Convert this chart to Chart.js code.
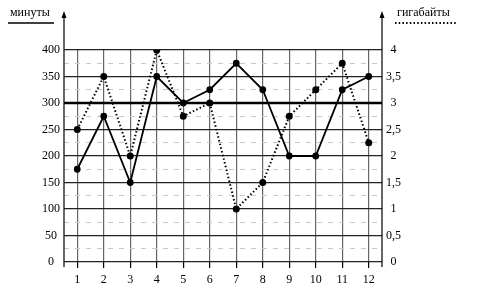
<!DOCTYPE html>
<html>
<head>
<meta charset="utf-8">
<script src="https://cdn.jsdelivr.net/npm/chart.js@4"></script>
<style>
  html, body { margin: 0; padding: 0; background: #fff; }
  #wrap { width: 492px; height: 291px; position: relative; }
</style>
</head>
<body>
<div id="wrap"><canvas id="myChart"></canvas></div>
<script>
const months = ["1", "2", "3", "4", "5", "6", "7", "8", "9", "10", "11", "12"];
const minutes = [175, 275, 150, 350, 300, 325, 375, 325, 200, 200, 325, 350];
const gigabytes = [2.5, 3.5, 2, 4, 2.75, 3, 1, 1.5, 2.75, 3.25, 3.75, 2.25];
const limitMinutes = 300;
const leftTitle = "минуты";
const rightTitle = "гигабайты";

const serif = "'Liberation Serif', 'DejaVu Serif', serif";

// axes with arrows, limit line and the legend-like titles
const decor = {
  id: "decor",
  beforeDatasetsDraw: (chart) => {
    const { ctx, chartArea: a, scales } = chart;
    const y = scales.y.getPixelForValue(limitMinutes);
    ctx.save();
    ctx.strokeStyle = "#000";
    ctx.lineWidth = 2.5;
    ctx.beginPath();
    ctx.moveTo(a.left, y);
    ctx.lineTo(a.right, y);
    ctx.stroke();
    ctx.restore();
  },
  afterDraw: (chart) => {
    const { ctx, chartArea: a } = chart;
    ctx.save();
    ctx.strokeStyle = "#000";
    ctx.fillStyle = "#000";
    ctx.lineWidth = 1.2;
    [a.left, a.right].forEach((x) => {
      ctx.beginPath();
      ctx.moveTo(x, a.bottom + 5);
      ctx.lineTo(x, 15);
      ctx.stroke();
      ctx.beginPath();
      ctx.moveTo(x, 11);
      ctx.lineTo(x - 2.5, 18);
      ctx.lineTo(x + 2.5, 18);
      ctx.closePath();
      ctx.fill();
    });
    ctx.font = "12px " + serif;
    ctx.textBaseline = "middle";
    ctx.textAlign = "left";
    ctx.fillText(leftTitle, 10, 13);
    ctx.fillText(rightTitle, 397, 13);
    ctx.lineWidth = 1.5;
    ctx.beginPath();
    ctx.moveTo(8, 23);
    ctx.lineTo(54, 23);
    ctx.stroke();
    ctx.lineWidth = 2;
    ctx.setLineDash([1.5, 2.2]);
    ctx.beginPath();
    ctx.moveTo(395, 23);
    ctx.lineTo(457, 23);
    ctx.stroke();
    ctx.restore();
  },
};

const ctx = document.getElementById("myChart").getContext("2d");
new Chart(ctx, {
  type: "line",
  data: {
    labels: months,
    datasets: [
      {
        label: leftTitle,
        data: minutes,
        yAxisID: "y",
        borderColor: "#000",
        backgroundColor: "#000",
        borderWidth: 1.8,
        pointRadius: 2.5,
        pointHoverRadius: 2.5,
        tension: 0,
      },
      {
        label: rightTitle,
        data: gigabytes,
        yAxisID: "y1",
        borderColor: "#000",
        backgroundColor: "#000",
        borderWidth: 2,
        borderDash: [1.5, 2.3],
        pointRadius: 2.5,
        pointHoverRadius: 2.5,
        tension: 0,
      },
    ],
  },
  options: {
    responsive: true,
    maintainAspectRatio: false,
    animation: false,
    events: [],
    layout: { padding: { top: 50, left: 0, right: 0, bottom: 0 } },
    plugins: {
      legend: { display: false },
      tooltip: { enabled: false },
    },
    scales: {
      x: {
        offset: true,
        afterFit: (s) => { s.height = 29; },
        grid: {
          offset: false,
          color: "#666",
          lineWidth: 1.2,
          tickLength: 6,
          tickColor: "#000",
        },
        border: { display: false },
        ticks: {
          color: "#000",
          font: { family: serif, size: 12 },
          padding: 5,
          maxRotation: 0,
        },
      },
      y: {
        position: "left",
        min: 0,
        max: 400,
        afterFit: (s) => { s.width = 64; },
        grid: {
          drawTicks: false,
          color: (c) => (c.tick && c.tick.value % 50 ? "#c8c8c8" : "#222"),
          lineWidth: (c) => (c.tick && c.tick.value % 50 ? 1 : 1.2),
        },
        border: {
          display: false,
          dash: (c) => (c.tick && c.tick.value % 50 ? [5, 6] : []),
        },
        ticks: {
          stepSize: 25,
          autoSkip: false,
          color: "#000",
          crossAlign: "center",
          padding: 4,
          font: { family: serif, size: 12 },
          callback: (v) => (v % 50 ? "" : v),
        },
      },
      y1: {
        position: "right",
        min: 0,
        max: 4,
        afterFit: (s) => { s.width = 110; },
        grid: { drawOnChartArea: false, drawTicks: false },
        border: { display: false },
        ticks: {
          stepSize: 0.5,
          color: "#000",
          crossAlign: "center",
          padding: 4,
          font: { family: serif, size: 12 },
          callback: (v) => String(v).replace(".", ","),
        },
      },
    },
  },
  plugins: [decor],
});
</script>
</body>
</html>
